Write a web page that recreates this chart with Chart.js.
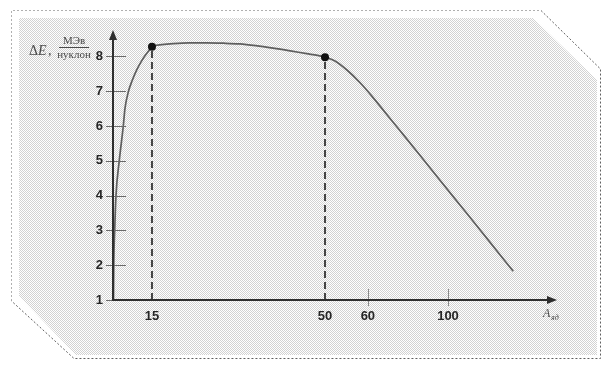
<!DOCTYPE html>
<html>
<head>
<meta charset="utf-8">
<script src="https://cdn.jsdelivr.net/npm/chart.js@4/dist/chart.umd.min.js"></script>
<style>
html,body{margin:0;padding:0;background:#fff;}
#wrap{width:612px;height:370px;position:relative;}
</style>
</head>
<body>
<div id="wrap"><canvas id="c" width="612" height="370"></canvas></div>
<script>
// ---- data ----
const curveA = [0.19, 0.3, 0.65, 1.15, 2.4, 3.96, 4.6, 5.96, 7.35, 9.04, 10.85, 12.3, 13.6, 15, 17, 19.3, 22.5, 26.0, 29.5, 32.7, 36, 39.5, 43, 46.3, 48.5, 50, 52.33, 55.12, 58.14, 62, 68.5, 76, 86, 96, 106.6, 117.6, 128.6, 135.9];
const curveE = [1.0, 2.0, 3.0, 4.0, 5.0, 6.0, 6.5, 7.0, 7.3, 7.6, 7.85, 8.02, 8.15, 8.28, 8.34, 8.37, 8.39, 8.39, 8.38, 8.36, 8.31, 8.24, 8.16, 8.08, 8.03, 7.98, 7.87, 7.61, 7.25, 6.86, 6.40, 5.87, 5.16, 4.44, 3.73, 3.02, 2.30, 1.83];
const markerA = [15, 50];
const markerE = [8.28, 7.98];
const yTickValues = [1, 2, 3, 4, 5, 6, 7, 8];
const xTickValues = [15, 50, 60, 100];
const xTickMarks = [60, 100];
// non-uniform (schematic) A axis: A values and their fraction along the axis
const xAxisA = [0, 15, 50, 60, 100, 160];
const xAxisFrac = [0, 0.0878, 0.4775, 0.574, 0.7545, 1];

class SchematicScale extends Chart.LinearScale {
  getPixelForValue(v) {
    if (v === null || v === undefined || isNaN(v)) return NaN;
    const A = xAxisA, F = xAxisFrac;
    let i = 0;
    while (i < A.length - 2 && v > A[i + 1]) i++;
    const f = F[i] + (v - A[i]) / (A[i + 1] - A[i]) * (F[i + 1] - F[i]);
    return this.left + f * this.width;
  }
  getValueForPixel(p) {
    const A = xAxisA, F = xAxisFrac;
    const f = (p - this.left) / this.width;
    let i = 0;
    while (i < F.length - 2 && f > F[i + 1]) i++;
    return A[i] + (f - F[i]) / (F[i + 1] - F[i]) * (A[i + 1] - A[i]);
  }
}
SchematicScale.id = 'schematic';
Chart.register(SchematicScale);

const curveData = curveA.map((a, i) => ({x: a, y: curveE[i]}));
const markerData = markerA.map((a, i) => ({x: a, y: markerE[i]}));
const dropLines = markerA.map((a, i) => [{x: a, y: yTickValues[0]}, {x: a, y: markerE[i]}]);

const deco = {
  id: 'deco',
  beforeDraw(chart) {
    const ctx = chart.ctx;
    ctx.save();
    ctx.fillStyle = '#ffffff';
    ctx.fillRect(0, 0, chart.width, chart.height);
    // stippled panel
    const pc = document.createElement('canvas');
    pc.width = 2; pc.height = 2;
    const p = pc.getContext('2d');
    p.fillStyle = '#ffffff'; p.fillRect(0, 0, 2, 2);
    p.fillStyle = '#d2d2d2'; p.fillRect(0, 0, 1, 1); p.fillRect(1, 1, 1, 1);
    ctx.fillStyle = ctx.createPattern(pc, 'repeat');
    ctx.beginPath();
    ctx.moveTo(19, 18); ctx.lineTo(533, 18); ctx.lineTo(597, 80);
    ctx.lineTo(597, 355); ctx.lineTo(76, 355); ctx.lineTo(19, 296);
    ctx.closePath(); ctx.fill();
    // dashed outline (light top/left, darker right/bottom)
    ctx.lineWidth = 1;
    ctx.setLineDash([2, 2]);
    ctx.strokeStyle = '#b0b0b0';
    ctx.beginPath();
    ctx.moveTo(11.5, 301); ctx.lineTo(11.5, 10.5); ctx.lineTo(541, 10.5);
    ctx.stroke();
    ctx.strokeStyle = '#606060';
    ctx.beginPath();
    ctx.moveTo(541, 10.5); ctx.lineTo(600.5, 69); ctx.lineTo(600.5, 358.5);
    ctx.lineTo(74, 358.5); ctx.lineTo(11.5, 301);
    ctx.stroke();
    ctx.restore();
  },
  afterDatasetsDraw(chart) {
    const ctx = chart.ctx;
    const xs = chart.scales.x, ys = chart.scales.y;
    const x0 = xs.getPixelForValue(0);
    const y0 = ys.getPixelForValue(yTickValues[0]);
    const top = chart.chartArea.top, right = chart.chartArea.right;
    ctx.save();
    // y tick marks
    ctx.strokeStyle = '#6a6a6a';
    ctx.lineWidth = 1;
    yTickValues.forEach(v => {
      const y = Math.round(ys.getPixelForValue(v)) + 0.5;
      ctx.beginPath(); ctx.moveTo(x0 - 7, y); ctx.lineTo(x0 + 13, y); ctx.stroke();
    });
    // x tick marks
    ctx.strokeStyle = '#8a8a8a';
    xTickMarks.forEach(v => {
      const x = Math.round(xs.getPixelForValue(v)) + 0.5;
      ctx.beginPath(); ctx.moveTo(x, y0 - 11); ctx.lineTo(x, y0 + 6); ctx.stroke();
    });
    // axis lines
    ctx.strokeStyle = '#2e2e2e';
    ctx.lineWidth = 2;
    ctx.beginPath();
    ctx.moveTo(x0, top + 6); ctx.lineTo(x0, y0); ctx.lineTo(right - 6, y0);
    ctx.stroke();
    // arrows
    ctx.fillStyle = '#2e2e2e';
    ctx.beginPath();
    ctx.moveTo(x0, top); ctx.lineTo(x0 - 4, top + 10); ctx.lineTo(x0 + 4, top + 10); ctx.closePath(); ctx.fill();
    ctx.beginPath();
    ctx.moveTo(right, y0); ctx.lineTo(right - 10, y0 - 4); ctx.lineTo(right - 10, y0 + 4); ctx.closePath(); ctx.fill();
    ctx.restore();
  },
  afterDraw(chart) {
    const ctx = chart.ctx;
    ctx.save();
    ctx.fillStyle = '#4a4a4a';
    ctx.textBaseline = 'alphabetic';
    // y-axis title: ΔE, МэВ / нуклон
    ctx.textAlign = 'left';
    ctx.font = '14px "Liberation Serif"';
    ctx.fillText('Δ', 29, 55);
    ctx.font = 'italic 14px "Liberation Serif"';
    ctx.fillText('E', 38, 55);
    ctx.font = '14px "Liberation Serif"';
    ctx.fillText(',', 48, 55);
    ctx.textAlign = 'center';
    ctx.font = '11px "Liberation Serif"';
    ctx.fillText('МЭв', 74, 44);
    ctx.fillText('нуклон', 74, 58);
    ctx.strokeStyle = '#4a4a4a';
    ctx.lineWidth = 1;
    ctx.beginPath(); ctx.moveTo(59, 47.5); ctx.lineTo(89, 47.5); ctx.stroke();
    // x-axis title: A_яд
    ctx.textAlign = 'left';
    ctx.font = 'italic 12px "Liberation Serif"';
    ctx.fillText('A', 543, 317);
    ctx.font = 'italic 8px "Liberation Serif"';
    ctx.fillText('яд', 551, 320);
    ctx.restore();
  }
};

new Chart(document.getElementById('c'), {
  type: 'line',
  data: {
    datasets: [
      {data: markerData, showLine: false, pointRadius: 4, pointBackgroundColor: '#111', pointBorderColor: '#111', pointBorderWidth: 0},
      {data: curveData, borderColor: '#5e5e5e', borderWidth: 1.7, pointRadius: 0, cubicInterpolationMode: 'monotone', fill: false},
      {data: dropLines[0], borderColor: '#454545', borderWidth: 2, borderDash: [7, 4], pointRadius: 0},
      {data: dropLines[1], borderColor: '#454545', borderWidth: 2, borderDash: [7, 4], pointRadius: 0}
    ]
  },
  options: {
    responsive: false,
    animation: false,
    devicePixelRatio: 1,
    layout: {padding: {top: 30, right: 55, left: 0, bottom: 0}},
    plugins: {legend: {display: false}, tooltip: {enabled: false}},
    events: [],
    scales: {
      x: {
        type: 'schematic',
        min: 0, max: 160,
        border: {display: false},
        grid: {display: false, drawTicks: false},
        afterBuildTicks: s => { s.ticks = xTickValues.map(v => ({value: v})); },
        afterFit: s => { s.height = 70; },
        ticks: {padding: 9, color: '#262626', maxRotation: 0, autoSkip: false,
                font: {family: '"Liberation Sans"', size: 13, weight: 'bold'}}
      },
      y: {
        type: 'linear',
        min: 1, max: 8.76,
        border: {display: false},
        grid: {display: false, drawTicks: false},
        afterBuildTicks: s => { s.ticks = yTickValues.map(v => ({value: v})); },
        afterFit: s => { s.width = 113; },
        ticks: {padding: 10, color: '#262626',
                font: {family: '"Liberation Sans"', size: 13, weight: 'bold'}}
      }
    }
  },
  plugins: [deco]
});
</script>
</body>
</html>
